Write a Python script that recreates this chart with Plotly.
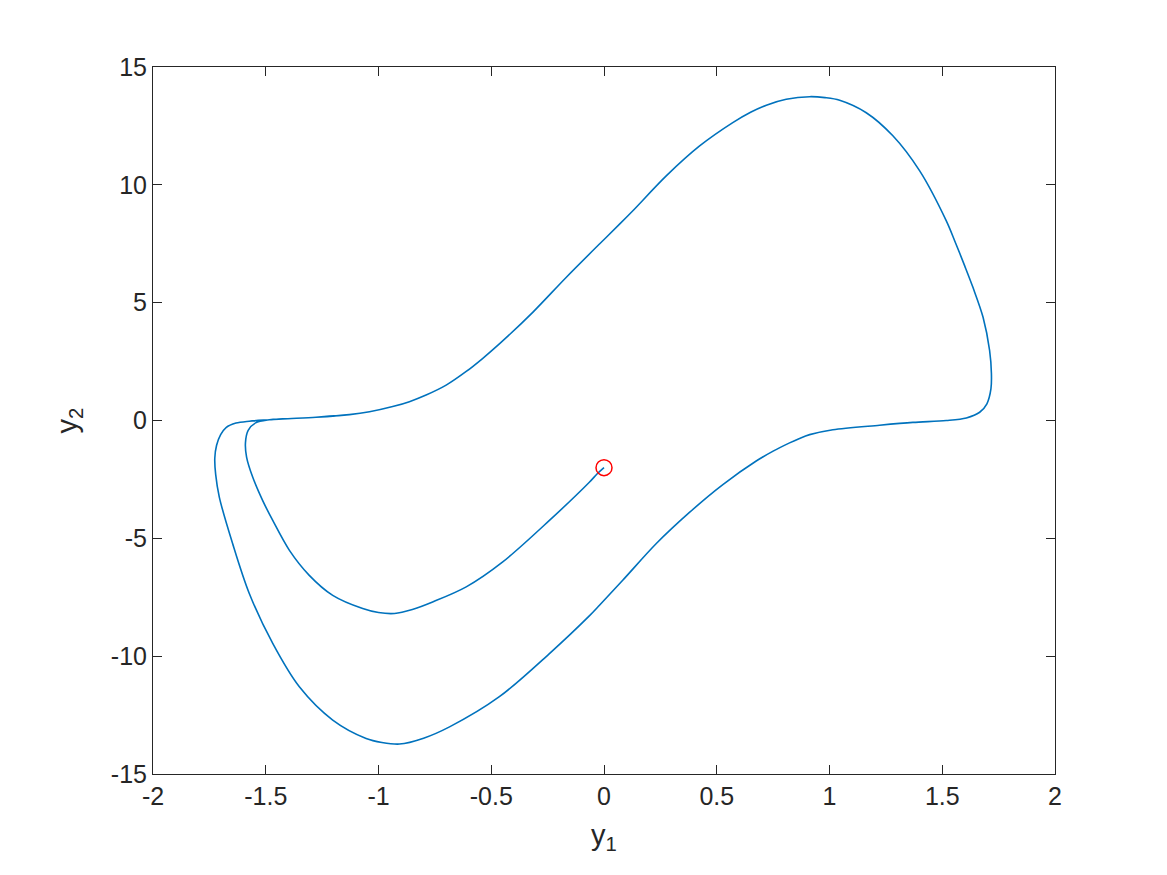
import plotly.graph_objects as go

# trajectory: start -> inner loop -> limit cycle
y1 = [0.0, -0.03, -0.064, -0.242, -0.449, -0.611, -0.760, -0.850, -0.929, -1.000, -1.070, -1.203,
      -1.307, -1.395, -1.469, -1.514, -1.558, -1.585, -1.590, -1.578, -1.545, -1.484,
      -1.425, -1.277, -1.129, -1.040, -0.937, -0.863, -0.789, -0.700, -0.611, -0.540, -0.464, -0.316,
      -0.168, -0.020, 0.069, 0.128, 0.276, 0.424, 0.571, 0.650, 0.720, 0.808, 0.912, 0.980, 1.045,
      1.163, 1.281, 1.400, 1.518, 1.555, 1.600, 1.636, 1.681, 1.710, 1.718, 1.716,
      1.698, 1.666, 1.607, 1.518, 1.370, 1.222, 1.015, 0.912, 0.867, 0.823, 0.750,
      0.675, 0.527, 0.379, 0.232, 0.083, -0.020, -0.064, -0.242, -0.464, -0.685,
      -0.800, -0.907, -0.985, -1.055, -1.203, -1.351, -1.469, -1.573, -1.647, -1.706, -1.722, -1.726,
      -1.718, -1.700, -1.676, -1.632, -1.573, -1.484, -1.425, -1.277, -1.129]
y2 = [-2.0, -2.26, -2.61, -4.24, -6.00, -7.06, -7.70, -8.02, -8.19, -8.15, -7.98, -7.42,
      -6.57, -5.51, -4.24, -3.39, -2.40, -1.55, -0.95, -0.42, -0.10, 0.03,
      0.07, 0.14, 0.25, 0.37, 0.59, 0.80, 1.08, 1.50, 2.08, 2.62, 3.25, 4.59,
      6.07, 7.49, 8.33, 8.90, 10.38, 11.65, 12.64, 13.08, 13.38, 13.63, 13.74, 13.70, 13.59,
      13.06, 12.08, 10.59, 8.47, 7.63, 6.55, 5.65, 4.38, 2.97, 2.00, 1.35,
      0.71, 0.35, 0.11, 0.0, -0.08, -0.20, -0.39, -0.60, -0.76, -0.95, -1.30,
      -1.72, -2.72, -3.90, -5.22, -6.78, -7.84, -8.28, -9.89, -11.72, -13.0,
      -13.48, -13.73, -13.66, -13.49, -12.71, -11.30, -9.46, -7.34, -5.22, -3.25, -2.30, -1.60,
      -1.05, -0.60, -0.30, -0.11, -0.03, 0.03, 0.07, 0.14, 0.25]

start_y1 = [0.0]
start_y2 = [-2.0]

x_ticks = [-2, -1.5, -1, -0.5, 0, 0.5, 1, 1.5, 2]
x_labels = ["-2", "-1.5", "-1", "-0.5", "0", "0.5", "1", "1.5", "2"]
y_ticks = [-15, -10, -5, 0, 5, 10, 15]
y_labels = ["-15", "-10", "-5", "0", "5", "10", "15"]

font_family = "Liberation Sans, Arial, Helvetica"
ink = "#262626"

fig = go.Figure()
fig.add_trace(go.Scatter(x=y1, y=y2, mode="lines",
                         line=dict(color="#0072BD", width=1.6, shape="spline", smoothing=0.9),
                         showlegend=False))
fig.add_trace(go.Scatter(x=start_y1, y=start_y2, mode="markers",
                         marker=dict(symbol="circle-open", size=16, color="#FF0000",
                                     line=dict(width=1.5, color="#FF0000")),
                         showlegend=False))

axis_common = dict(showline=True, mirror="ticks", linecolor=ink, linewidth=1,
                   ticks="inside", ticklen=9, tickcolor=ink, showgrid=False,
                   zeroline=False, tickfont=dict(family=font_family, size=25, color=ink))

fig.update_xaxes(range=[-2, 2], tickvals=x_ticks, ticktext=x_labels,
                 title=dict(text="y<sub>1</sub>", font=dict(family=font_family, size=29, color=ink),
                            standoff=15),
                 **axis_common)
fig.update_yaxes(range=[-15, 15], tickvals=y_ticks, ticktext=y_labels,
                 title=dict(text="y<sub>2</sub>", font=dict(family=font_family, size=29, color=ink),
                            standoff=24),
                 **axis_common)

fig.update_layout(width=1167, height=875, plot_bgcolor="white", paper_bgcolor="white",
                  margin=dict(l=145, r=120, t=59, b=109, autoexpand=False))

fig.write_html("out.html")
